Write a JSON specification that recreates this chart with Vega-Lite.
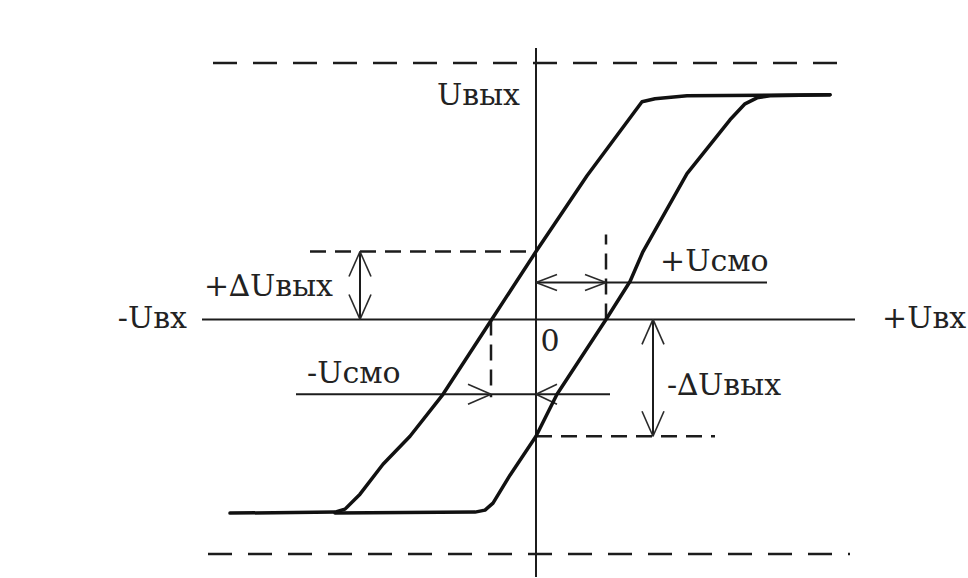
{
  "$schema": "https://vega.github.io/schema/vega-lite/v6.json",
  "width": 968,
  "height": 578,
  "autosize": {"type": "fit", "contains": "padding"},
  "padding": 0,
  "background": "#ffffff",
  "view": {"stroke": null},
  "datasets": {
    "segs": [
      {"style": "axis", "u1": 0, "v1": 272, "u2": 0, "v2": -258},
      {"style": "axis", "u1": -334, "v1": 0, "u2": 319, "v2": 0},
      {"style": "axis", "u1": 0, "v1": 37, "u2": 231, "v2": 37},
      {"style": "axis", "u1": -240, "v1": -75, "u2": 74, "v2": -75},
      {"style": "axis", "u1": -176, "v1": 68, "u2": -176, "v2": 0},
      {"style": "axis", "u1": 117, "v1": 0, "u2": 117, "v2": -117},
      {"style": "long", "u1": -323, "v1": 257, "u2": 314, "v2": 257},
      {"style": "long", "u1": -328, "v1": -235, "u2": 314, "v2": -235},
      {"style": "short", "u1": -226, "v1": 68, "u2": 0, "v2": 68},
      {"style": "short", "u1": 0, "v1": -117, "u2": 179, "v2": -117},
      {"style": "short", "u1": -45, "v1": 0, "u2": -45, "v2": -78},
      {"style": "short", "u1": 70, "v1": 0, "u2": 70, "v2": 85},
      {"style": "head", "u1": -176, "v1": 68, "u2": -187, "v2": 43},
      {"style": "head", "u1": -176, "v1": 68, "u2": -165, "v2": 43},
      {"style": "head", "u1": -176, "v1": 0, "u2": -187, "v2": 25},
      {"style": "head", "u1": -176, "v1": 0, "u2": -165, "v2": 25},
      {"style": "head", "u1": 117, "v1": 0, "u2": 106, "v2": -25},
      {"style": "head", "u1": 117, "v1": 0, "u2": 128, "v2": -25},
      {"style": "head", "u1": 117, "v1": -117, "u2": 106, "v2": -92},
      {"style": "head", "u1": 117, "v1": -117, "u2": 128, "v2": -92},
      {"style": "head", "u1": 0, "v1": 37, "u2": 21, "v2": 45},
      {"style": "head", "u1": 0, "v1": 37, "u2": 21, "v2": 29},
      {"style": "head", "u1": 70, "v1": 37, "u2": 49, "v2": 45},
      {"style": "head", "u1": 70, "v1": 37, "u2": 49, "v2": 29},
      {"style": "head", "u1": -45, "v1": -75, "u2": -68, "v2": -65},
      {"style": "head", "u1": -45, "v1": -75, "u2": -68, "v2": -85},
      {"style": "head", "u1": 0, "v1": -75, "u2": 21, "v2": -65},
      {"style": "head", "u1": 0, "v1": -75, "u2": 21, "v2": -85}
    ],
    "curves": [
      {"curve": "A", "i": 1, "u": -306, "v": -194},
      {"curve": "A", "i": 2, "u": -201, "v": -193},
      {"curve": "A", "i": 3, "u": -191, "v": -190},
      {"curve": "A", "i": 4, "u": -176, "v": -175},
      {"curve": "A", "i": 5, "u": -153, "v": -145},
      {"curve": "A", "i": 6, "u": -126, "v": -117},
      {"curve": "A", "i": 7, "u": -93, "v": -75},
      {"curve": "A", "i": 8, "u": -43, "v": 2},
      {"curve": "A", "i": 9, "u": 0, "v": 68},
      {"curve": "A", "i": 10, "u": 51, "v": 144},
      {"curve": "A", "i": 11, "u": 106, "v": 218},
      {"curve": "A", "i": 12, "u": 119, "v": 221},
      {"curve": "A", "i": 13, "u": 151, "v": 224},
      {"curve": "A", "i": 14, "u": 294, "v": 225},
      {"curve": "B", "i": 1, "u": -201, "v": -194},
      {"curve": "B", "i": 2, "u": -61, "v": -193},
      {"curve": "B", "i": 3, "u": -51, "v": -191},
      {"curve": "B", "i": 4, "u": -43, "v": -184},
      {"curve": "B", "i": 5, "u": -26, "v": -156},
      {"curve": "B", "i": 6, "u": 0, "v": -117},
      {"curve": "B", "i": 7, "u": 21, "v": -75},
      {"curve": "B", "i": 8, "u": 70, "v": 0},
      {"curve": "B", "i": 9, "u": 94, "v": 38},
      {"curve": "B", "i": 10, "u": 107, "v": 68},
      {"curve": "B", "i": 11, "u": 151, "v": 146},
      {"curve": "B", "i": 12, "u": 194, "v": 200},
      {"curve": "B", "i": 13, "u": 209, "v": 216},
      {"curve": "B", "i": 14, "u": 221, "v": 222},
      {"curve": "B", "i": 15, "u": 234, "v": 224},
      {"curve": "B", "i": 16, "u": 294, "v": 225}
    ],
    "labels": [
      {"text": "Uвых", "u": -16, "v": 224, "side": "right"},
      {"text": "-Uвх", "u": -349, "v": 0, "side": "right"},
      {"text": "+∆Uвых", "u": -203, "v": 33, "side": "right"},
      {"text": "+Uвх", "u": 346, "v": 0, "side": "left"},
      {"text": "-Uсмо", "u": -229, "v": -55, "side": "left"},
      {"text": "+Uсмо", "u": 124, "v": 58, "side": "left"},
      {"text": "-∆Uвых", "u": 131, "v": -67, "side": "left"},
      {"text": "0", "u": 14, "v": -23, "side": "center"}
    ]
  },
  "encoding": {
    "x": {"type": "quantitative", "scale": {"domain": [-536, 432], "nice": false, "zero": false}, "axis": null},
    "y": {"type": "quantitative", "scale": {"domain": [-258, 320], "nice": false, "zero": false}, "axis": null}
  },
  "layer": [
    {
      "data": {"name": "segs"},
      "transform": [{"filter": "datum.style === 'axis'"}],
      "mark": {"type": "rule", "color": "#1c1c1c", "strokeWidth": 2},
      "encoding": {"x": {"field": "u1"}, "x2": {"field": "u2"}, "y": {"field": "v1"}, "y2": {"field": "v2"}}
    },
    {
      "data": {"name": "segs"},
      "transform": [{"filter": "datum.style === 'long'"}],
      "mark": {"type": "rule", "color": "#1c1c1c", "strokeWidth": 2.5, "strokeDash": [24, 16]},
      "encoding": {"x": {"field": "u1"}, "x2": {"field": "u2"}, "y": {"field": "v1"}, "y2": {"field": "v2"}}
    },
    {
      "data": {"name": "segs"},
      "transform": [{"filter": "datum.style === 'short'"}],
      "mark": {"type": "rule", "color": "#1c1c1c", "strokeWidth": 2.5, "strokeDash": [16, 9]},
      "encoding": {"x": {"field": "u1"}, "x2": {"field": "u2"}, "y": {"field": "v1"}, "y2": {"field": "v2"}}
    },
    {
      "data": {"name": "segs"},
      "transform": [{"filter": "datum.style === 'head'"}],
      "mark": {"type": "rule", "color": "#2a2a2a", "strokeWidth": 1.6},
      "encoding": {"x": {"field": "u1"}, "x2": {"field": "u2"}, "y": {"field": "v1"}, "y2": {"field": "v2"}}
    },
    {
      "data": {"name": "curves"},
      "mark": {"type": "line", "color": "#111111", "strokeWidth": 3.5, "strokeJoin": "round", "strokeCap": "round"},
      "encoding": {
        "x": {"field": "u"},
        "y": {"field": "v"},
        "detail": {"field": "curve"},
        "order": {"field": "i", "type": "quantitative"}
      }
    },
    {
      "data": {"name": "labels"},
      "transform": [{"filter": "datum.side === 'right'"}],
      "mark": {"type": "text", "align": "right", "baseline": "middle", "font": "DejaVu Serif", "fontSize": 30, "color": "#222222"},
      "encoding": {"x": {"field": "u"}, "y": {"field": "v"}, "text": {"field": "text"}}
    },
    {
      "data": {"name": "labels"},
      "transform": [{"filter": "datum.side === 'left'"}],
      "mark": {"type": "text", "align": "left", "baseline": "middle", "font": "DejaVu Serif", "fontSize": 30, "color": "#222222"},
      "encoding": {"x": {"field": "u"}, "y": {"field": "v"}, "text": {"field": "text"}}
    },
    {
      "data": {"name": "labels"},
      "transform": [{"filter": "datum.side === 'center'"}],
      "mark": {"type": "text", "align": "center", "baseline": "middle", "font": "DejaVu Serif", "fontSize": 30, "color": "#222222"},
      "encoding": {"x": {"field": "u"}, "y": {"field": "v"}, "text": {"field": "text"}}
    }
  ]
}
